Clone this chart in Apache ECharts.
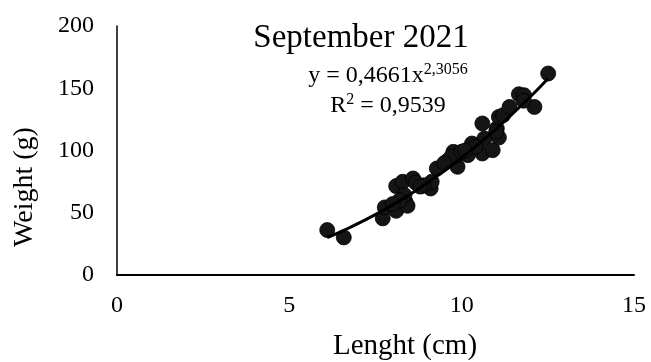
<!DOCTYPE html>
<html><head><meta charset="utf-8">
<script src="https://cdn.jsdelivr.net/npm/echarts@6/dist/echarts.min.js"></script>
<style>html,body{margin:0;padding:0;background:#fff}#c{width:651px;height:362px}</style>
</head><body><div id="c"></div>
<script>
const titleText = "September 2021";
const xName = "Lenght (cm)";
const yName = "Weight (g)";
const xTicks = [0, 5, 10, 15];
const yTicks = [0, 50, 100, 150, 200];
const lengths = [6.10,6.58,7.71,7.77,8.10,8.10,8.29,8.37,8.43,8.34,8.59,8.67,9.10,9.13,9.28,9.61,9.76,9.88,9.88,10.18,10.30,10.60,10.60,10.66,10.90,11.02,11.08,11.08,11.20,11.39,11.66,11.81,12.11,12.51,8.90,8.80,9.70,10.00,10.40,11.00,8.20,8.00,9.50,10.10,11.80];
const weights = [36.1,30.2,45.5,54.3,51.6,71.4,74.9,58.8,55.6,64.2,77.5,74.1,69.5,74.9,85.6,92.2,98.9,86.9,96.3,96.3,105.6,97.6,121.7,109.6,100.3,117.6,110.4,127.0,128.3,135.0,145.2,144.4,135.0,161.8,72.0,71.0,95.0,99.0,103.0,115.0,60.0,57.0,90.0,100.0,140.0];
const trendX = [6.1, 6.5, 7, 8, 9, 10, 11, 12, 12.5];
const trendY = [30.1, 34.9, 41.4, 56.3, 73.9, 94.2, 117.4, 143.4, 157.6];
const eqLine1 = "y = 0,4661x";
const eqExp = "2,3056";
const eqLine2a = "R";
const eqLine2b = "2";
const eqLine2c = " = 0,9539";

const FONT = "Liberation Serif";
const chart = echarts.init(document.getElementById('c'));
chart.setOption({
  animation: false,
  backgroundColor: '#fff',
  grid: {left: 117, right: 17, top: 26, bottom: 87},
  xAxis: {type: 'value', min: xTicks[0], max: xTicks[xTicks.length-1], interval: 5,
    axisLine: {show: true, onZero: false, lineStyle: {color: '#000', width: 2}},
    axisTick: {show: false}, splitLine: {show: false},
    axisLabel: {margin: 19, fontFamily: FONT, fontSize: 24, color: '#000'}},
  yAxis: {type: 'value', min: yTicks[0], max: yTicks[yTicks.length-1], interval: 50,
    axisLine: {show: true, lineStyle: {color: '#000', width: 1.5}},
    axisTick: {show: false}, splitLine: {show: false},
    axisLabel: {margin: 23, fontFamily: FONT, fontSize: 24, color: '#000'}},
  graphic: [
    {type: 'text', x: 361, y: 38, style: {text: titleText, fontFamily: FONT, fontSize: 33, fill: '#000', textAlign: 'center', textVerticalAlign: 'middle'}},
    {type: 'text', x: 405, y: 346, style: {text: xName, fontFamily: FONT, fontSize: 29, fill: '#000', textAlign: 'center', textVerticalAlign: 'middle'}},
    {type: 'text', rotation: Math.PI/2, x: 25, y: 187, style: {text: yName, fontFamily: FONT, fontSize: 28, fill: '#000', textAlign: 'center', textVerticalAlign: 'middle'}},
    {type: 'text', x: 388, y: 76, style: {
      text: '{a|' + eqLine1 + '}{s|' + eqExp + '}', textAlign: 'center', textVerticalAlign: 'middle',
      rich: {a: {fontFamily: FONT, fontSize: 24, color: '#000'}, s: {fontFamily: FONT, fontSize: 16, color: '#000', padding: [0,0,12,0]}}}},
    {type: 'text', x: 388, y: 106, style: {
      text: '{a|' + eqLine2a + '}{s|' + eqLine2b + '}{a|' + eqLine2c + '}', textAlign: 'center', textVerticalAlign: 'middle',
      rich: {a: {fontFamily: FONT, fontSize: 24, color: '#000'}, s: {fontFamily: FONT, fontSize: 16, color: '#000', padding: [0,0,12,0]}}}}
  ],
  series: [
    {type: 'scatter', symbol: 'circle', symbolSize: 15, z: 2,
      itemStyle: {color: '#151515', borderColor: '#000', borderWidth: 0.8, opacity: 1},
      data: lengths.map((x, i) => [x, weights[i]])},
    {type: 'line', smooth: true, showSymbol: false, z: 3,
      lineStyle: {color: '#000', width: 3},
      data: trendX.map((x, i) => [x, trendY[i]])}
  ]
});
</script></body></html>
